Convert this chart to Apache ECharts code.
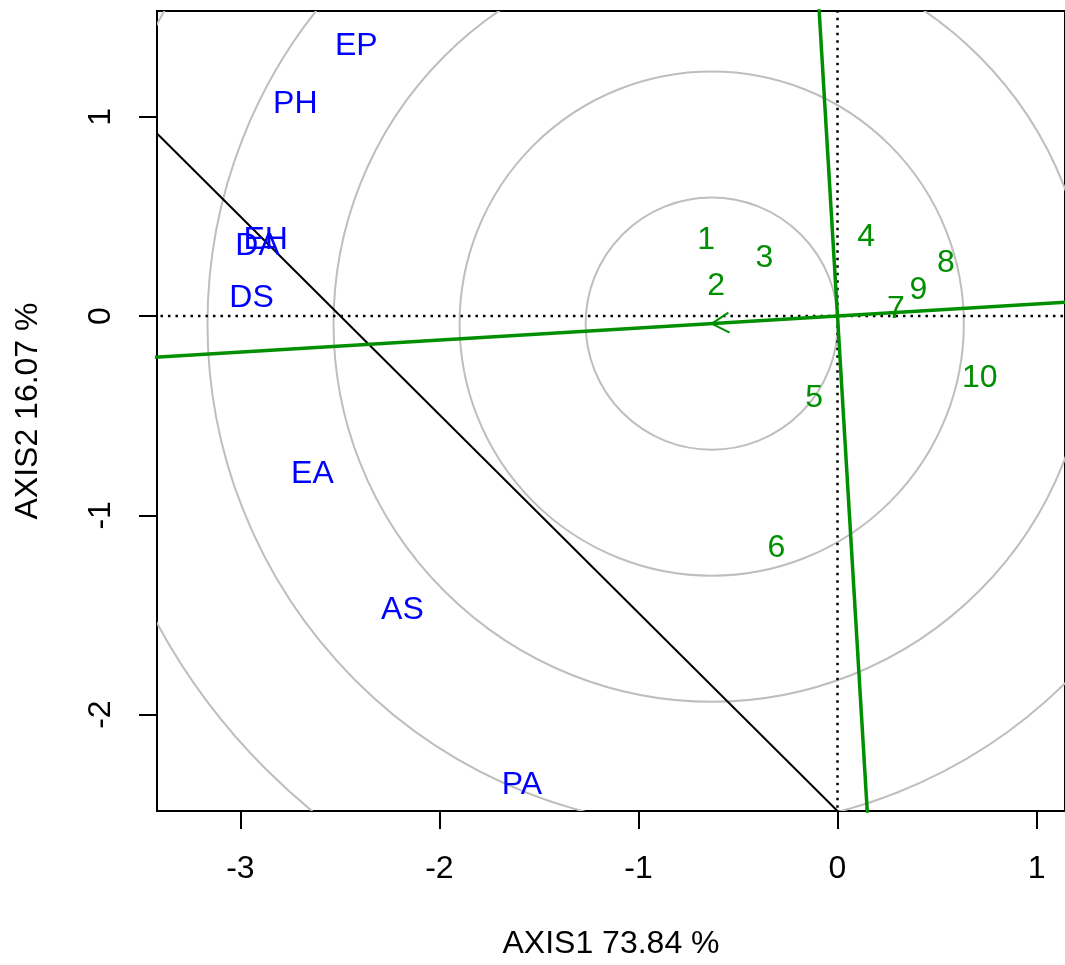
<!DOCTYPE html>
<html>
<head>
<meta charset="utf-8">
<script src="https://cdn.jsdelivr.net/npm/echarts@6/dist/echarts.min.js"></script>
<style>
html,body{margin:0;padding:0;background:#fff;}
#chart{width:1065px;height:965px;}
</style>
</head>
<body>
<div id="chart"></div>
<script>
// ---- data ----
const blueNames = ['EP','PH','EH','DA','DS','EA','AS','PA'];
const blueX = [-2.418, -2.724, -2.873, -2.914, -2.944, -2.638, -2.186, -1.585];
const blueY = [1.357, 1.066, 0.387, 0.354, 0.096, -0.787, -1.470, -2.349];

const greenNames = ['1','2','3','4','5','6','7','8','9','10'];
const greenX = [-0.660, -0.610, -0.367, 0.144, -0.117, -0.307, 0.294, 0.545, 0.406, 0.715];
const greenY = [0.384, 0.155, 0.294, 0.401, -0.409, -1.162, 0.039, 0.272, 0.135, -0.308];

// average-environment point (arrow tip, centre of the circles)
const aeaPoint = [-0.632, -0.038];
const circleRadii = [0.633, 1.266, 1.899, 2.532, 3.165];
// black reference line end points
const blackLine = [[-3.419, 0.916], [0, -2.484]];

const xTicks = [-3, -2, -1, 0, 1];
const yTicks = [-2, -1, 0, 1];
const xRange = [-3.419, 1.143];
const yRange = [-2.484, 1.531];
const xTitle = 'AXIS1 73.84 %';
const yTitle = 'AXIS2 16.07 %';

// ---- chart ----
const FONT = "'Liberation Sans', Arial, Helvetica, sans-serif";
const FS = 32;
const GREEN = '#008f00';
const BLUE = '#0000ff';

const chart = echarts.init(document.getElementById('chart'), null, {renderer: 'canvas'});

// lines derived from the AEA point
const aeaLine = [[aeaPoint[0] * 7, aeaPoint[1] * 7], [aeaPoint[0] * -3, aeaPoint[1] * -3]];
const perpDir = [-aeaPoint[1], aeaPoint[0]];
const perpScale = 4.5 / Math.hypot(perpDir[0], perpDir[1]);
const perpLine = [[perpDir[0] * perpScale, perpDir[1] * perpScale], [-perpDir[0] * perpScale, -perpDir[1] * perpScale]];

function lineSeries(data, color, width, dash, z) {
  return {
    type: 'line', data: data, showSymbol: false, symbol: 'none', clip: true, silent: true,
    lineStyle: {color: color, width: width, type: dash || 'solid', opacity: 1}, z: z || 2, animation: false
  };
}

function labelSeries(names, xs, ys, color) {
  return {
    type: 'scatter', symbolSize: 0, silent: true, z: 7,
    itemStyle: {opacity: 1},
    data: names.map((n, i) => ({name: n, value: [xs[i], ys[i]]})),
    label: {show: true, position: 'inside', offset: [0, 1], formatter: '{b}', color: color, opacity: 1,
      fontSize: FS, fontFamily: FONT},
    emphasis: {disabled: true}
  };
}

const option = {
  animation: false,
  backgroundColor: '#ffffff',
  grid: {left: 157, top: 11, right: -2, bottom: 152.3, show: true, borderColor: '#000', borderWidth: 2, backgroundColor: 'transparent'},
  xAxis: {
    type: 'value', min: xRange[0], max: xRange[1],
    axisLine: {show: true, onZero: false, lineStyle: {color: '#000', width: 2}},
    axisTick: {show: true, inside: false, length: 18, customValues: xTicks, lineStyle: {color: '#000', width: 2}},
    axisLabel: {show: true, customValues: xTicks, margin: 42, fontSize: FS, fontFamily: FONT, color: '#000'},
    splitLine: {show: false},
    name: xTitle, nameLocation: 'middle', nameGap: 117,
    nameTextStyle: {fontSize: FS, fontFamily: FONT, color: '#000'}
  },
  yAxis: {
    type: 'value', min: yRange[0], max: yRange[1],
    axisLine: {show: true, onZero: false, lineStyle: {color: '#000', width: 2}},
    axisTick: {show: true, inside: false, length: 18, customValues: yTicks, lineStyle: {color: '#000', width: 2}},
    axisLabel: {show: true, customValues: yTicks, rotate: 90, margin: 40, fontSize: FS, fontFamily: FONT, color: '#000'},
    splitLine: {show: false},
    name: yTitle, nameLocation: 'middle', nameGap: 113, nameRotate: 90,
    nameTextStyle: {fontSize: FS, fontFamily: FONT, color: '#000'}
  },
  series: [
    {
      type: 'custom', clip: true, silent: true, z: 1,
      data: circleRadii.map(r => [aeaPoint[0], aeaPoint[1], r]),
      encode: {x: 0, y: 1},
      renderItem: function (params, api) {
        const c = api.coord([api.value(0), api.value(1)]);
        const s = api.size([api.value(2), api.value(2)]);
        return {type: 'circle', shape: {cx: c[0], cy: c[1], r: (s[0] + s[1]) / 2},
          style: {fill: null, stroke: '#bebebe', lineWidth: 2}};
      }
    },
    lineSeries([[xRange[0] - 1, 0], [xRange[1] + 1, 0]], '#000', 2.5, [2.5, 5], 3),
    lineSeries([[0, yRange[0] - 1], [0, yRange[1] + 1]], '#000', 2.5, [2.5, 5], 3),
    lineSeries(blackLine, '#000', 2, 'solid', 4),
    lineSeries(aeaLine, GREEN, 3.5, 'solid', 5),
    lineSeries(perpLine, GREEN, 3.5, 'solid', 5),
    {
      type: 'custom', clip: true, silent: true, z: 6,
      data: [[0, 0, aeaPoint[0], aeaPoint[1]]],
      encode: {x: [0, 2], y: [1, 3]},
      renderItem: function (params, api) {
        const o = api.coord([api.value(0), api.value(1)]);
        const t = api.coord([api.value(2), api.value(3)]);
        const ang = Math.atan2(t[1] - o[1], t[0] - o[0]);
        const L = 20, a = Math.PI / 6;
        const p1 = [t[0] - L * Math.cos(ang - a), t[1] - L * Math.sin(ang - a)];
        const p2 = [t[0] - L * Math.cos(ang + a), t[1] - L * Math.sin(ang + a)];
        return {type: 'polyline', shape: {points: [p1, t, p2]},
          style: {fill: null, stroke: GREEN, lineWidth: 2}};
      }
    },
    labelSeries(blueNames, blueX, blueY, BLUE),
    labelSeries(greenNames, greenX, greenY, GREEN)
  ]
};
chart.setOption(option);
</script>
</body>
</html>
